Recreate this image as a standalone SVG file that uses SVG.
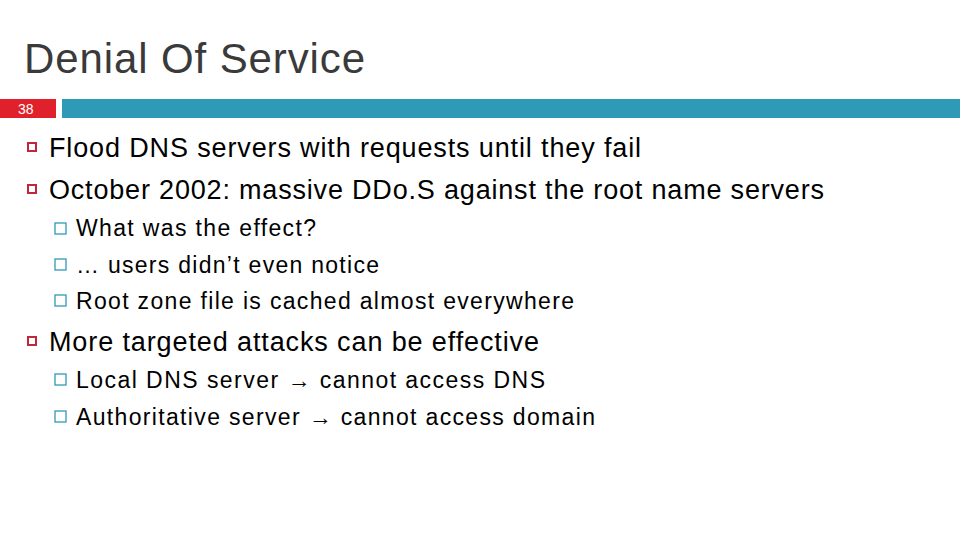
<svg xmlns="http://www.w3.org/2000/svg" width="960" height="540" viewBox="0 0 960 540">
<style>
text{font-family:"Liberation Sans",Arial,sans-serif;fill:#000}
.t{font-size:42px;fill:#3a3a3a}
.m{font-size:27px}
.s{font-size:23px}
.b1{fill:none;stroke:#c0283a;stroke-width:2}
.b2{fill:none;stroke:#2e9ab5;stroke-width:1.3}
</style>
<rect width="960" height="540" fill="#fff"/>
<text class="t" x="24" y="73" textLength="341" lengthAdjust="spacing">Denial Of Service</text>
<rect x="0" y="99" width="56" height="19" fill="#e0202a"/>
<text x="18" y="114" style="font-size:14px;fill:#fff">38</text>
<rect x="62" y="99" width="898" height="19" fill="#2e9ab5"/>
<g id="bullets">
<rect class="b1" x="28" y="143" width="8" height="8"/>
<rect class="b1" x="28" y="185" width="8" height="8"/>
<rect class="b1" x="28" y="337" width="8" height="8"/>
<rect class="b2" x="55" y="223" width="11" height="11"/>
<rect class="b2" x="55" y="259" width="11" height="11"/>
<rect class="b2" x="55" y="295" width="11" height="11"/>
<rect class="b2" x="55" y="374" width="11" height="11"/>
<rect class="b2" x="55" y="411" width="11" height="11"/>
</g>
<text class="m" x="49" y="157" textLength="592" lengthAdjust="spacing">Flood DNS servers with requests until they fail</text>
<text class="m" x="49" y="199" textLength="775" lengthAdjust="spacing">October 2002: massive DDo.S against the root name servers</text>
<text class="s" x="76" y="236" textLength="240" lengthAdjust="spacing">What was the effect?</text>
<text class="s" x="76" y="273" textLength="303" lengthAdjust="spacing">… users didn’t even notice</text>
<text class="s" x="76" y="309" textLength="498" lengthAdjust="spacing">Root zone file is cached almost everywhere</text>
<text class="m" x="49" y="351" textLength="490" lengthAdjust="spacing">More targeted attacks can be effective</text>
<text class="s" x="76" y="388" textLength="469" lengthAdjust="spacing">Local DNS server <tspan font-weight="bold">→</tspan> cannot access DNS</text>
<text class="s" x="76" y="425" textLength="519" lengthAdjust="spacing">Authoritative server <tspan font-weight="bold">→</tspan> cannot access domain</text>
</svg>
